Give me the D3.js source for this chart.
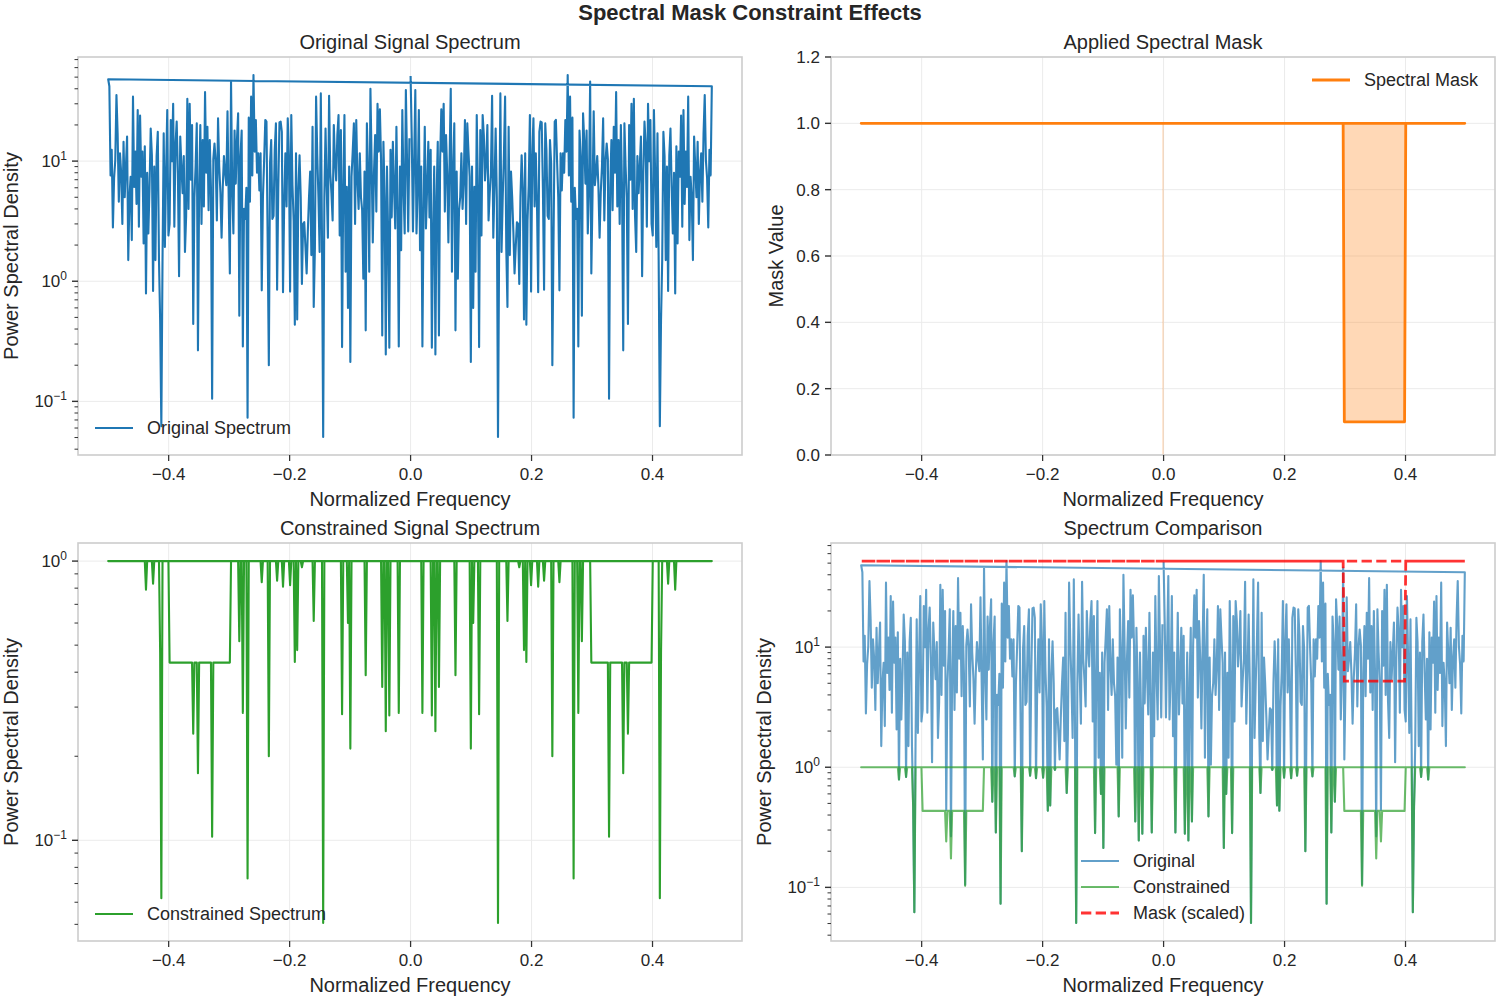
<!DOCTYPE html>
<html><head><meta charset="utf-8">
<script src="https://cdn.jsdelivr.net/npm/d3@7"></script>
<style>
body{margin:0;background:#fff}
text{font-family:"Liberation Sans",Arial,sans-serif;fill:#262626}
</style>
</head><body>
<svg id="c" width="1500" height="1000"></svg>
<script>
// ---------------- DATA ----------------
const N = 512; // FFT length; frequencies follow np.fft.fftfreq order
// Power spectrum for bins k = 0..256 (spectrum of a real signal: P(-k) = P(k))
const halfPSD = [
 51,15.5,2.6,10,39,2.5,6,26.6,1.81,9,
 0.286,4,19.3,2.75,6,14.5,3.4,12.4,0.28,2.5,
 9,0.246,5,14.5,0.354,10.2,27,12,30,3.8,
 16.5,8,2.1,10,40,1.2,8.4,20.6,0.39,8.2,
 1.05,3.9,5,11.6,4,7,22,3,20.6,12,
 7.4,0.213,9,0.6,6.1,1.2,24.2,6,0.283,18.1,
 2.4,24.2,16.5,6.9,10,20,3.2,5.4,8,35,
 2.3,6,18.7,5,0.0506,2.3,36.6,1.75,5,11.2,
 34.4,1.87,0.61,19.3,1.65,8.2,5,2.6,1.16,1.93,
 3.1,3,0.95,5,11.2,6,0.48,11.6,0.435,3.2,
 6.3,24.2,0.82,11.2,22.7,4.2,11.6,4.4,0.81,17.5,
 21.3,21,6,0.85,20.6,12.4,3.5,3.3,15,9.6,
 0.2,2.2,21.3,22,10,5,0.84,11.6,5.7,11.6,
 8,22,12,52,7.6,34.4,4.6,23,0.073,6,
 3.3,4,0.286,18,11,0.516,25,15,6.5,18,
 2.5,6,46,1.16,5,26,6.3,8,11,6.1,
 2.3,5.5,9,22.7,3.2,10,14,10.4,0.105,6,
 15,3.9,19.3,8,37.5,4.2,15,3,20,6,
 0.266,20.6,9,5,0.44,20,7,30,4,33,
 3.5,1.75,11,5.4,9,16,1.1,8,21.3,13.8,
 2.84,30,10,22,3,2.4,26.6,8,1.93,17,
 1.5,0.062,0.47,1.5,17.5,11,1.5,9,0.83,11.2,
 18.7,6,2.5,8,0.79,13.3,2.06,12,7.4,24,
 2.84,26.6,4.4,12,6.1,34.4,2.2,7.4,5,1.5,
 16,9,5,14.5,3,8,11.6,4.6,17,35.5,
 10.2,7.2,2.8,12.4,7.6,42,48
];
// Constrained spectrum: level 1.0, lowered level inside the band, plus dips (bin, value)
const constrainedLevel = 1.0;
const constrainedBandLevel = 0.433;
const constrainedBandBins = [153, 204];
const dipBins   = [10,18,21,24,38,51,53,58,74,82,92,96,98,102,108,113,120,126,138,142,145,168,180,184,211,212,218,224];
const dipValues = [0.286,0.28,0.246,0.354,0.39,0.213,0.6,0.283,0.0506,0.61,0.95,0.48,0.435,0.82,0.81,0.85,0.2,0.84,0.073,0.286,0.516,0.103,0.174,0.241,0.062,0.47,0.83,0.79];
// Spectral mask (positive band only)
const maskPassValue = 1.0;
const maskStopValue = 0.1;
const maskStopBins = [153, 204];

const xTickValues = [-0.4, -0.2, 0.0, 0.2, 0.4];
const maskYTicks = [0, 0.2, 0.4, 0.6, 0.8, 1.0, 1.2];
const maskYLim = [0, 1.2];

const suptitle = "Spectral Mask Constraint Effects";
const titles = ["Original Signal Spectrum", "Applied Spectral Mask", "Constrained Signal Spectrum", "Spectrum Comparison"];
const xLabel = "Normalized Frequency";
const yLabels = ["Power Spectral Density", "Mask Value", "Power Spectral Density", "Power Spectral Density"];
const legendOriginal = ["Original Spectrum"];
const legendMask = ["Spectral Mask"];
const legendConstrained = ["Constrained Spectrum"];
const legendCompare = ["Original", "Constrained", "Mask (scaled)"];

// ---------------- BUILD SERIES ----------------
const dipMap = new Map(dipBins.map((b, j) => [b, dipValues[j]]));
const bins = d3.range(N).map(i => (i < N / 2 ? i : i - N)); // fftfreq order
const original = bins.map(k => ({ f: k / N, v: halfPSD[Math.abs(k)] }));
const constrained = bins.map(k => {
  const a = Math.abs(k);
  let v = (a >= constrainedBandBins[0] && a <= constrainedBandBins[1]) ? constrainedBandLevel : constrainedLevel;
  if (dipMap.has(a)) v = dipMap.get(a);
  return { f: k / N, v };
});
const mask = bins.map(k => ({ f: k / N, v: (k >= maskStopBins[0] && k <= maskStopBins[1]) ? maskStopValue : maskPassValue }));
const maxOrig = d3.max(original, d => d.v);
const maskScaled = mask.map(d => ({ f: d.f, v: d.v * maxOrig }));

// ---------------- LAYOUT ----------------
const svg = d3.select("#c");
const boxes = [
  { x0: 78, x1: 742, y0: 57, y1: 455 },
  { x0: 831, x1: 1495, y0: 57, y1: 455 },
  { x0: 78, x1: 742, y0: 543, y1: 941 },
  { x0: 831, x1: 1495, y0: 543, y1: 941 }
];
const C = { blue: "#1f77b4", orange: "#ff7f0e", green: "#2ca02c", red: "#ff0000", grid: "#ebebeb", spine: "#cccccc", tick: "#333333" };
const TICK_FS = 17, LABEL_FS = 20, TITLE_FS = 20, LEGEND_FS = 18;
const LW = 2.1, LW_MASK = 2.8;

const fExt = d3.extent(original, d => d.f);
const fPad = (fExt[1] - fExt[0]) * 0.05;
const xDomain = [fExt[0] - fPad, fExt[1] + fPad];

function logDomain(values) {
  const lo = Math.log10(d3.min(values)), hi = Math.log10(d3.max(values));
  const p = (hi - lo) * 0.05;
  return [Math.pow(10, lo - p), Math.pow(10, hi + p)];
}

function supExp(e) { return e < 0 ? "\u2212" + Math.abs(e) : String(e); }
function fmtTick(v) { const s = d3.format(".1f")(v); return s.replace("-", "\u2212"); }

function setupPanel(i, y, isLog, yTicks) {
  const b = boxes[i];
  const x = d3.scaleLinear().domain(xDomain).range([b.x0, b.x1]);
  const g = svg.append("g");
  const gridG = g.append("g");
  xTickValues.forEach(t => gridG.append("line").attr("x1", x(t)).attr("x2", x(t)).attr("y1", b.y0).attr("y2", b.y1)
    .attr("stroke", C.grid).attr("stroke-width", 1));
  let majors = [], minors = [];
  if (isLog) {
    const [lo, hi] = y.domain();
    for (let e = Math.floor(Math.log10(lo)); e <= Math.ceil(Math.log10(hi)); e++) {
      for (let m = 1; m < 10; m++) {
        const v = m * Math.pow(10, e);
        if (v < lo || v > hi) continue;
        if (m === 1) majors.push({ v, e }); else minors.push(v);
      }
    }
  } else {
    majors = yTicks.map(v => ({ v }));
  }
  majors.forEach(t => gridG.append("line").attr("x1", b.x0).attr("x2", b.x1).attr("y1", y(t.v)).attr("y2", y(t.v))
    .attr("stroke", C.grid).attr("stroke-width", 1));
  const dataG = g.append("g");
  const defsId = "clip" + i;
  svg.append("clipPath").attr("id", defsId).append("rect")
    .attr("x", b.x0).attr("y", b.y0).attr("width", b.x1 - b.x0).attr("height", b.y1 - b.y0);
  dataG.attr("clip-path", `url(#${defsId})`);
  const axG = svg.append("g");
  const finish = () => {
    axG.append("rect").attr("x", b.x0).attr("y", b.y0).attr("width", b.x1 - b.x0).attr("height", b.y1 - b.y0)
      .attr("fill", "none").attr("stroke", C.spine).attr("stroke-width", 1.6);
    xTickValues.forEach(t => {
      axG.append("line").attr("x1", x(t)).attr("x2", x(t)).attr("y1", b.y1).attr("y2", b.y1 + 6)
        .attr("stroke", C.tick).attr("stroke-width", 1.25);
      axG.append("text").attr("x", x(t)).attr("y", b.y1 + 25).attr("text-anchor", "middle")
        .attr("font-size", TICK_FS).text(fmtTick(t));
    });
    majors.forEach(t => {
      axG.append("line").attr("x1", b.x0 - 6).attr("x2", b.x0).attr("y1", y(t.v)).attr("y2", y(t.v))
        .attr("stroke", C.tick).attr("stroke-width", 1.4);
      const tx = axG.append("text").attr("x", b.x0 - 11).attr("y", y(t.v) + 6).attr("text-anchor", "end")
        .attr("font-size", TICK_FS);
      if (isLog) {
        tx.append("tspan").text("10");
        tx.append("tspan").attr("dy", -7.5).attr("font-size", 12).text(supExp(t.e));
      } else {
        tx.text(fmtTick(t.v));
      }
    });
    minors.forEach(v => axG.append("line").attr("x1", b.x0 - 3.5).attr("x2", b.x0).attr("y1", y(v)).attr("y2", y(v))
      .attr("stroke", C.tick).attr("stroke-width", 1));
    axG.append("text").attr("x", (b.x0 + b.x1) / 2).attr("y", b.y0 - 8).attr("text-anchor", "middle")
      .attr("font-size", TITLE_FS).text(titles[i]);
    axG.append("text").attr("x", (b.x0 + b.x1) / 2).attr("y", b.y1 + 51).attr("text-anchor", "middle")
      .attr("font-size", LABEL_FS).text(xLabel);
    const ylx = isLog ? b.x0 - 60 : b.x0 - 48;
    axG.append("text").attr("transform", `translate(${ylx},${(b.y0 + b.y1) / 2}) rotate(-90)`)
      .attr("text-anchor", "middle").attr("font-size", LABEL_FS).text(yLabels[i]);
  };
  return { x, y, dataG, b, finish, axG };
}

function legend(g, lx, ly, items) {
  items.forEach((it, j) => {
    const yy = ly + j * 26;
    g.append("line").attr("x1", lx).attr("x2", lx + 38).attr("y1", yy).attr("y2", yy)
      .attr("stroke", it.color).attr("stroke-width", it.width).attr("stroke-opacity", it.opacity || 1)
      .attr("stroke-dasharray", it.dash || null);
    g.append("text").attr("x", lx + 52).attr("y", yy + 6).attr("font-size", LEGEND_FS).text(it.label);
  });
}

// ---------- Panel 1: original ----------
{
  const dom = logDomain(original.map(d => d.v));
  const y = d3.scaleLog().domain(dom).range([boxes[0].y1, boxes[0].y0]);
  const P = setupPanel(0, y, true);
  const line = d3.line().x(d => P.x(d.f)).y(d => P.y(d.v));
  P.dataG.append("path").datum(original).attr("d", line).attr("fill", "none")
    .attr("stroke", C.blue).attr("stroke-width", LW).attr("stroke-linejoin", "round");
  P.finish();
  legend(P.axG, P.b.x0 + 17, P.b.y1 - 27, [{ label: legendOriginal[0], color: C.blue, width: LW }]);
}
// ---------- Panel 2: mask ----------
{
  const y = d3.scaleLinear().domain(maskYLim).range([boxes[1].y1, boxes[1].y0]);
  const P = setupPanel(1, y, false, maskYTicks);
  const area = d3.area().x(d => P.x(d.f)).y0(P.y(0)).y1(d => P.y(d.v));
  P.dataG.append("path").datum(mask).attr("d", area).attr("fill", C.orange).attr("fill-opacity", 0.3).attr("stroke", "none");
  const line = d3.line().x(d => P.x(d.f)).y(d => P.y(d.v));
  P.dataG.append("path").datum(mask).attr("d", line).attr("fill", "none")
    .attr("stroke", C.orange).attr("stroke-width", LW_MASK).attr("stroke-linejoin", "round");
  P.finish();
  legend(P.axG, 1312, P.b.y0 + 23, [{ label: legendMask[0], color: C.orange, width: LW_MASK }]);
}
// ---------- Panel 3: constrained ----------
{
  const dom = logDomain(constrained.map(d => d.v));
  const y = d3.scaleLog().domain(dom).range([boxes[2].y1, boxes[2].y0]);
  const P = setupPanel(2, y, true);
  const line = d3.line().x(d => P.x(d.f)).y(d => P.y(d.v));
  P.dataG.append("path").datum(constrained).attr("d", line).attr("fill", "none")
    .attr("stroke", C.green).attr("stroke-width", LW).attr("stroke-linejoin", "round");
  P.finish();
  legend(P.axG, P.b.x0 + 17, P.b.y1 - 27, [{ label: legendConstrained[0], color: C.green, width: LW }]);
}
// ---------- Panel 4: comparison ----------
{
  const all = original.map(d => d.v).concat(constrained.map(d => d.v), maskScaled.map(d => d.v));
  const dom = logDomain(all);
  const y = d3.scaleLog().domain(dom).range([boxes[3].y1, boxes[3].y0]);
  const P = setupPanel(3, y, true);
  const line = d3.line().x(d => P.x(d.f)).y(d => P.y(d.v));
  P.dataG.append("path").datum(original).attr("d", line).attr("fill", "none")
    .attr("stroke", C.blue).attr("stroke-opacity", 0.7).attr("stroke-width", LW).attr("stroke-linejoin", "round");
  P.dataG.append("path").datum(constrained).attr("d", line).attr("fill", "none")
    .attr("stroke", C.green).attr("stroke-opacity", 0.7).attr("stroke-width", LW).attr("stroke-linejoin", "round");
  P.dataG.append("path").datum(maskScaled).attr("d", line).attr("fill", "none")
    .attr("stroke", C.red).attr("stroke-opacity", 0.8).attr("stroke-width", LW_MASK).attr("stroke-dasharray", "10.3,4.4");
  P.finish();
  legend(P.axG, 1081, 861, [
    { label: legendCompare[0], color: C.blue, width: LW, opacity: 0.7 },
    { label: legendCompare[1], color: C.green, width: LW, opacity: 0.7 },
    { label: legendCompare[2], color: C.red, width: LW_MASK, opacity: 0.8, dash: "10.3,4.4" }
  ]);
}
svg.append("text").attr("x", 750).attr("y", 20).attr("text-anchor", "middle")
  .attr("font-size", 22).attr("font-weight", "bold").text(suptitle);
</script>
</body></html>
